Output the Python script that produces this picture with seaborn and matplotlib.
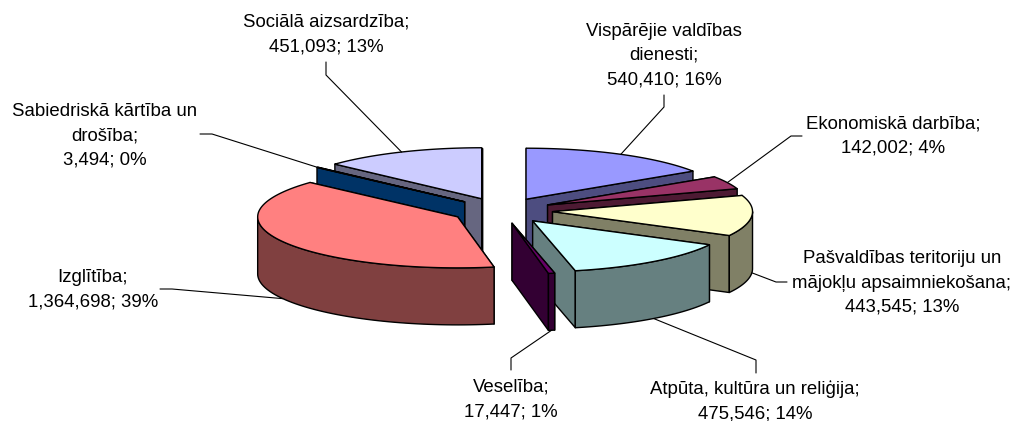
import numpy as np
import matplotlib
matplotlib.use('Agg')
import matplotlib.pyplot as plt
import seaborn as sb

# clockwise from 12 o'clock
names = ['Vispārējie valdības\ndienesti', 'Ekonomiskā darbība', 'Pašvaldības teritoriju un\nmājokļu apsaimniekošana',
         'Atpūta, kultūra un reliģija', 'Veselība', 'Izglītība', 'Sabiedriskā kārtība un\ndrošība', 'Sociālā aizsardzība']
values = [540410, 142002, 443545, 475546, 17447, 1364698, 3494, 451093]
percents = [16, 4, 13, 14, 1, 39, 0, 13]
colors = ['#9999FF', '#993366', '#FFFFCC', '#CCFFFF', '#660066', '#FF8080', '#0066CC', '#CCCCFF']

# label centres and leader elbows, in pixels
label_xy = [(664, 55.5), (893, 136), (902, 283), (755, 401), (511, 399.5), (93, 290), (105, 136), (326, 34.5)]
elbows = [[(664, 107), (664, 95)], [(791, 136), (802, 136)], [(776, 282), (787, 282)], [(756, 360), (756, 373)],
          [(511, 358), (511, 370)], [(172, 289), (160, 289)], [(212, 134), (200, 134)], [(326, 75), (326, 62)]]

# pie projection
cx, cy = 502, 210.6
rx, ry = 200, 51
explode = 50.7
depth = 57

sb.set_theme(style='white')
plt.rcParams['font.family'] = ['Liberation Sans', 'DejaVu Sans']
palette = sb.color_palette(colors)
side_palette = [tuple(c * 0.5 for c in col) for col in palette]

fig = plt.figure(figsize=(10.15, 4.21), dpi=100)
ax = fig.add_axes([0, 0, 1, 1])
ax.set_xlim(0, 1015)
ax.set_ylim(421, 0)
ax.axis('off')

edges = np.cumsum([0] + values) / sum(values) * 360
mids = (edges[:-1] + edges[1:]) / 2


def rim(x0, y0, deg):
    t = np.radians(deg)
    return x0 + rx * np.sin(t), y0 - ry * np.cos(t)


def face(pts, color):
    xs, ys = zip(*pts)
    ax.fill(xs, ys, facecolor=color, edgecolor='black', linewidth=1.0, joinstyle='round')


# back slices first
order = np.argsort(-np.cos(np.radians(mids)))
for i in order:
    t = np.radians(mids[i])
    x0 = cx + explode * np.sin(t)
    y0 = cy - explode * ry / rx * np.cos(t)
    a, b = edges[i], edges[i + 1]

    walls = []
    for deg in (a, b):
        px, py = rim(x0, y0, deg)
        walls.append([(x0, y0), (px, py), (px, py + depth), (x0, y0 + depth)])
    walls.sort(key=lambda w: w[0][1] + w[1][1])
    for w in walls:
        face(w, side_palette[i])

    lo, hi = max(a, 90), min(b, 270)
    if lo < hi:
        degs = np.linspace(lo, hi, 60)
        upper = [rim(x0, y0, d) for d in degs]
        lower = [(p[0], p[1] + depth) for p in upper[::-1]]
        face(upper + lower, side_palette[i])

    degs = np.linspace(a, b, 80)
    face([(x0, y0)] + [rim(x0, y0, d) for d in degs], palette[i])

    # leader from the rim to the label
    px, py = rim(x0, y0, mids[i])
    if np.cos(t) < 0:
        py += depth
    lx, ly = zip(*([(px, py)] + elbows[i]))
    ax.plot(lx, ly, color='black', lw=0.8, zorder=5)

for name, val, pct, (x, y) in zip(names, values, percents, label_xy):
    ax.text(x, y, f'{name};\n{val:,}; {pct}%', ha='center', va='center', fontsize=13.4,
            linespacing=1.56, color='black')

plt.savefig('out.png', dpi=100)
